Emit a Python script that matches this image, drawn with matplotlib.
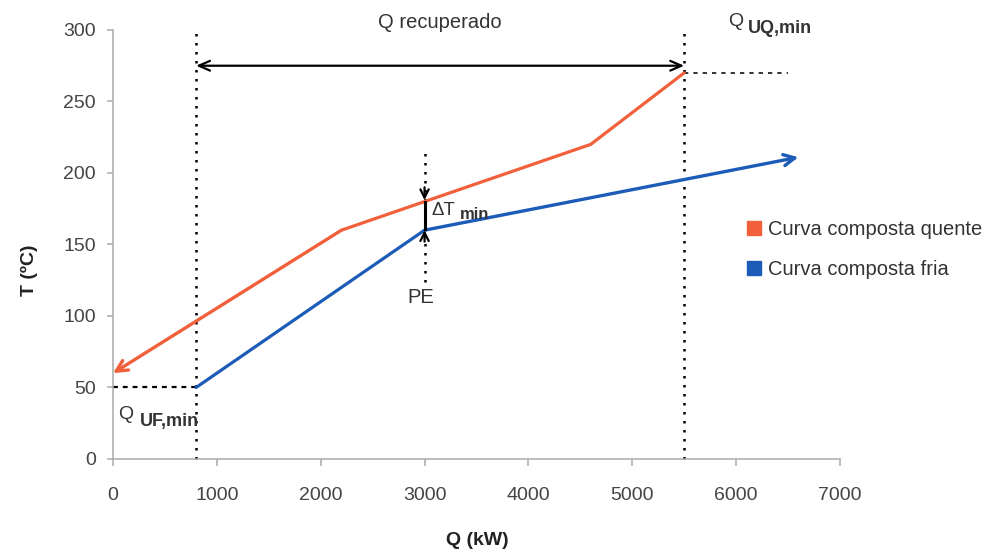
import matplotlib
matplotlib.use("Agg")
import matplotlib.pyplot as plt
from matplotlib.lines import Line2D

plt.rcParams['font.family'] = ['Liberation Sans', 'DejaVu Sans']

# composite curves (Q in kW, T in degC)
hot_q = [0, 2200, 3000, 4600, 5500]
hot_t = [60, 160, 180, 220, 270]
cold_q = [800, 3000, 6600]
cold_t = [50, 160, 211]

q_uf_min = 800
q_uq_min = 5500
pinch_q = 3000
recup_t = 275

x_ticks = [0, 1000, 2000, 3000, 4000, 5000, 6000, 7000]
y_ticks = [0, 50, 100, 150, 200, 250, 300]

hot_color = "#f2603b"
cold_color = "#1c5cb8"

fig = plt.figure(figsize=(9.87, 5.52), dpi=100)
ax = fig.add_axes([0.1145, 0.1685, 0.7365, 0.7772])
ax.set_xlim(0, 7000)
ax.set_ylim(0, 300)

# hot curve, arrow at the low end
ax.plot(hot_q[1:], hot_t[1:], color=hot_color, lw=2.3, solid_capstyle='round', zorder=3)
ax.annotate('', xy=(hot_q[0], hot_t[0]), xytext=(hot_q[1], hot_t[1]),
            arrowprops=dict(arrowstyle='->,head_length=0.8,head_width=0.4', color=hot_color, lw=2.4,
                            shrinkA=0, shrinkB=0), zorder=3)

# cold curve, arrow at the high end
ax.plot(cold_q[:-1], cold_t[:-1], color=cold_color, lw=2.3, solid_capstyle='round', zorder=3)
ax.annotate('', xy=(cold_q[-1], cold_t[-1]), xytext=(cold_q[-2], cold_t[-2]),
            arrowprops=dict(arrowstyle='->,head_length=0.8,head_width=0.4', color=cold_color, lw=2.4,
                            shrinkA=0, shrinkB=0), zorder=3)

# dotted guides
dots = (0, (1, 2.6))
ax.plot([q_uf_min, q_uf_min], [0, 298], color='black', lw=1.8, ls=dots, clip_on=False)
ax.plot([q_uq_min, q_uq_min], [0, 298], color='black', lw=1.8, ls=dots, clip_on=False)
ax.plot([0, q_uf_min], [cold_t[0], cold_t[0]], color='black', lw=1.6, ls=(0, (2.2, 2.2)))
ax.plot([q_uq_min, 6500], [hot_t[-1], hot_t[-1]], color='#333333', lw=1.4, ls=(0, (2.2, 2.6)))
ax.plot([pinch_q, pinch_q], [124, 215], color='black', lw=1.8, ls=dots)

# recovered heat arrow
ax.annotate('', xy=(q_uf_min, recup_t), xytext=(q_uq_min, recup_t),
            arrowprops=dict(arrowstyle='<->,head_length=0.8,head_width=0.35', color='black', lw=1.6,
                            shrinkA=0, shrinkB=0))

# delta T min at pinch
ax.plot([pinch_q, pinch_q], [161, 180], color='black', lw=2.2, zorder=4)
ax.annotate('', xy=(pinch_q, 181), xytext=(pinch_q, 190),
            arrowprops=dict(arrowstyle='->,head_length=0.6,head_width=0.3', color='black', lw=1.6,
                            shrinkA=0, shrinkB=0), zorder=4)
ax.annotate('', xy=(pinch_q, 160), xytext=(pinch_q, 152),
            arrowprops=dict(arrowstyle='->,head_length=0.6,head_width=0.3', color='black', lw=1.6,
                            shrinkA=0, shrinkB=0), zorder=4)

txt = '#333333'
ax.text(3150, 305, 'Q recuperado', ha='center', va='center', fontsize=14.5, color=txt, clip_on=False)
ax.text(6000, 306, 'Q', ha='center', va='center', fontsize=14, color=txt, clip_on=False)
ax.text(6110, 301, 'UQ,min', ha='left', va='center', fontsize=13, fontweight='bold', color=txt, clip_on=False)
ax.text(125, 31, 'Q', ha='center', va='center', fontsize=14, color=txt)
ax.text(260, 26.5, 'UF,min', ha='left', va='center', fontsize=13, fontweight='bold', color=txt)
ax.text(3070, 174, 'ΔT', ha='left', va='center', fontsize=13.5, color=txt)
ax.text(3340, 171, 'min', ha='left', va='center', fontsize=12, fontweight='bold', color=txt)
ax.text(2965, 113, 'PE', ha='center', va='center', fontsize=14.5, color=txt)

# axes styling
for s in ['top', 'right']:
    ax.spines[s].set_visible(False)
for s in ['left', 'bottom']:
    ax.spines[s].set_color('#aaaaaa')
    ax.spines[s].set_linewidth(1.1)
ax.set_xticks(x_ticks)
ax.set_yticks(y_ticks)
ax.tick_params(axis='x', length=5, width=1.1, color='#aaaaaa', pad=15, labelsize=14, labelcolor='#444444')
ax.tick_params(axis='y', length=4.5, width=1.1, color='#aaaaaa', pad=8, labelsize=14, labelcolor='#444444')

fig.text(0.030, 0.51, 'T (ºC)', rotation=90, ha='center', va='center', fontsize=14, fontweight='bold', color='#222222')
fig.text(0.484, 0.02, 'Q (kW)', ha='center', va='center', fontsize=14, fontweight='bold', color='#222222')

handles = [Line2D([], [], ls='none', marker='s', ms=10, color=hot_color),
           Line2D([], [], ls='none', marker='s', ms=10, color=cold_color)]
fig.legend(handles, ['Curva composta quente', 'Curva composta fria'], loc='upper left',
           bbox_to_anchor=(0.748, 0.62), frameon=False, fontsize=14.5, labelcolor='#333333',
           handlelength=0.6, handletextpad=0.4, labelspacing=1.05, borderpad=0)

fig.savefig('out.png', dpi=100)
